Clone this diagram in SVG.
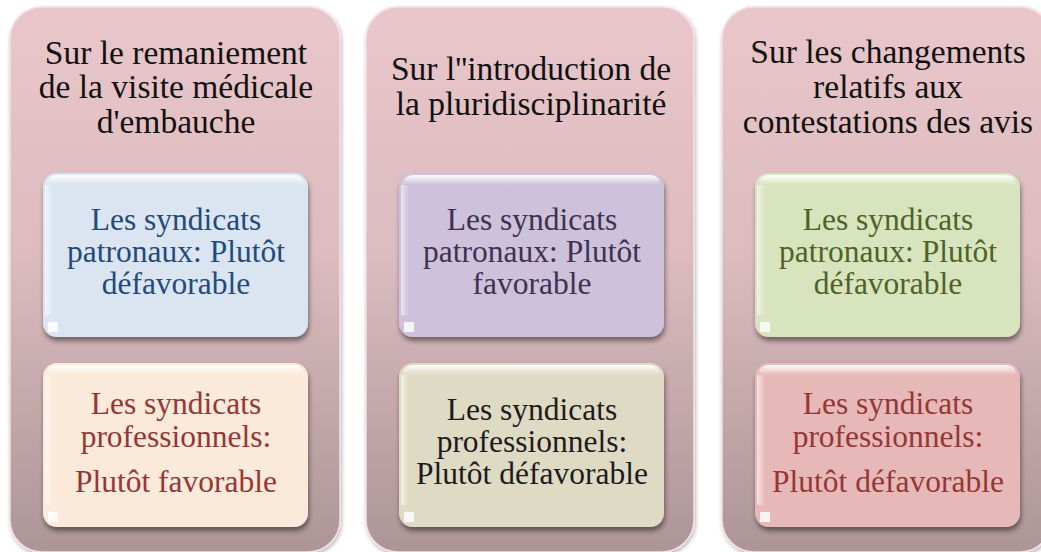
<svg xmlns="http://www.w3.org/2000/svg" width="1041" height="552" viewBox="0 0 1041 552">
<defs>
<linearGradient id="outerG" x1="0" y1="0" x2="0" y2="1">
<stop offset="0" stop-color="#e9c6ca"/>
<stop offset="0.45" stop-color="#dcbcbf"/>
<stop offset="1" stop-color="#ad9597"/>
</linearGradient>
<linearGradient id="hiG" x1="0" y1="0" x2="0" y2="1">
<stop offset="0" stop-color="#ffffff" stop-opacity="0.95"/>
<stop offset="1" stop-color="#ffffff" stop-opacity="0"/>
</linearGradient>
<linearGradient id="leftG" x1="0" y1="0" x2="1" y2="0">
<stop offset="0" stop-color="#ffffff" stop-opacity="0.6"/>
<stop offset="1" stop-color="#ffffff" stop-opacity="0"/>
</linearGradient>
<filter id="sh" x="-10%" y="-10%" width="125%" height="130%">
<feGaussianBlur in="SourceAlpha" stdDeviation="2.5"/>
<feOffset dx="1" dy="4" result="b"/>
<feComponentTransfer><feFuncA type="linear" slope="0.45"/></feComponentTransfer>
<feMerge><feMergeNode/><feMergeNode in="SourceGraphic"/></feMerge>
</filter>
<filter id="osh" x="-10%" y="-10%" width="125%" height="125%">
<feGaussianBlur in="SourceAlpha" stdDeviation="2"/>
<feOffset dx="1" dy="2"/>
<feComponentTransfer><feFuncA type="linear" slope="0.3"/></feComponentTransfer>
<feMerge><feMergeNode/><feMergeNode in="SourceGraphic"/></feMerge>
</filter>
</defs>
<style>
.outer{fill:url(#outerG);stroke:#f3e0e2;stroke-width:1.5}
.inner{stroke:none}
.hi{fill:url(#hiG)}
.lf{fill:url(#leftG)}
.t{font-family:"Liberation Serif","Times New Roman",serif;text-anchor:middle}
.title{font-size:33.5px;fill:#111111}
.lbl{font-size:31.5px}
</style>

<g id="col1">
<rect class="outer" x="10" y="7" width="330" height="545" rx="32" filter="url(#osh)"/>
<text class="t title" x="176" y="64">Sur le remaniement</text>
<text class="t title" x="176" y="98">de la visite médicale</text>
<text class="t title" x="176" y="133">d'embauche</text>
</g>
<g id="col1-top">
<rect class="inner" x="43" y="173" width="265" height="164" rx="14" fill="#dbe5f1" filter="url(#sh)"/>
<path class="hi" d="M57,175 H294 Q304,175 304,185 H47 Q47,175 57,175 Z"/>
<rect class="lf" x="45" y="185" width="8" height="130"/>
<rect x="48" y="322" width="10" height="10" fill="#ffffff" opacity="0.8"/>
<text class="t lbl" x="176" y="230" fill="#244a7d">Les syndicats</text>
<text class="t lbl" x="176" y="262" fill="#244a7d">patronaux: Plutôt</text>
<text class="t lbl" x="176" y="294" fill="#244a7d">défavorable</text>
</g>
<g id="col1-bottom">
<rect class="inner" x="43" y="363" width="265" height="164" rx="14" fill="#fbe9da" filter="url(#sh)"/>
<path class="hi" d="M57,365 H294 Q304,365 304,375 H47 Q47,365 57,365 Z"/>
<rect class="lf" x="45" y="375" width="8" height="130"/>
<rect x="48" y="512" width="10" height="10" fill="#ffffff" opacity="0.8"/>
<text class="t lbl" x="176" y="414" fill="#953735">Les syndicats</text>
<text class="t lbl" x="176" y="447" fill="#953735">professionnels:</text>
<text class="t lbl" x="176" y="492" fill="#953735">Plutôt favorable</text>
</g>

<g id="col2">
<rect class="outer" x="366" y="7" width="328" height="545" rx="32" filter="url(#osh)"/>
<text class="t title" x="531" y="80">Sur l''introduction de</text>
<text class="t title" x="531" y="115">la pluridisciplinarité</text>
</g>
<g id="col2-top">
<rect class="inner" x="399" y="173" width="265" height="164" rx="14" fill="#cdc1db" filter="url(#sh)"/>
<path class="hi" d="M413,175 H650 Q660,175 660,185 H403 Q403,175 413,175 Z"/>
<rect class="lf" x="401" y="185" width="8" height="130"/>
<rect x="404" y="322" width="10" height="10" fill="#ffffff" opacity="0.8"/>
<text class="t lbl" x="532" y="230" fill="#403152">Les syndicats</text>
<text class="t lbl" x="532" y="262" fill="#403152">patronaux: Plutôt</text>
<text class="t lbl" x="532" y="294" fill="#403152">favorable</text>
</g>
<g id="col2-bottom">
<rect class="inner" x="399" y="363" width="265" height="164" rx="14" fill="#dedac4" filter="url(#sh)"/>
<path class="hi" d="M413,365 H650 Q660,365 660,375 H403 Q403,365 413,365 Z"/>
<rect class="lf" x="401" y="375" width="8" height="130"/>
<rect x="404" y="512" width="10" height="10" fill="#ffffff" opacity="0.8"/>
<text class="t lbl" x="532" y="420" fill="#1c1c1c">Les syndicats</text>
<text class="t lbl" x="532" y="452" fill="#1c1c1c">professionnels:</text>
<text class="t lbl" x="532" y="484" fill="#1c1c1c">Plutôt défavorable</text>
</g>

<g id="col3">
<rect class="outer" x="722" y="7" width="330" height="545" rx="32" filter="url(#osh)"/>
<text class="t title" x="888" y="63">Sur les changements</text>
<text class="t title" x="888" y="98">relatifs aux</text>
<text class="t title" x="888" y="133">contestations des avis</text>
</g>
<g id="col3-top">
<rect class="inner" x="755" y="173" width="265" height="164" rx="14" fill="#d7e4bd" filter="url(#sh)"/>
<path class="hi" d="M769,175 H1006 Q1016,175 1016,185 H759 Q759,175 769,175 Z"/>
<rect class="lf" x="757" y="185" width="8" height="130"/>
<rect x="760" y="322" width="10" height="10" fill="#ffffff" opacity="0.8"/>
<text class="t lbl" x="888" y="230" fill="#4f6228">Les syndicats</text>
<text class="t lbl" x="888" y="262" fill="#4f6228">patronaux: Plutôt</text>
<text class="t lbl" x="888" y="294" fill="#4f6228">défavorable</text>
</g>
<g id="col3-bottom">
<rect class="inner" x="755" y="363" width="265" height="164" rx="14" fill="#e6b9b8" filter="url(#sh)"/>
<path class="hi" d="M769,365 H1006 Q1016,365 1016,375 H759 Q759,365 769,365 Z"/>
<rect class="lf" x="757" y="375" width="8" height="130"/>
<rect x="760" y="512" width="10" height="10" fill="#ffffff" opacity="0.8"/>
<text class="t lbl" x="888" y="414" fill="#953735">Les syndicats</text>
<text class="t lbl" x="888" y="447" fill="#953735">professionnels:</text>
<text class="t lbl" x="888" y="492" fill="#953735">Plutôt défavorable</text>
</g>
<g id="connectors"/>
</svg>
